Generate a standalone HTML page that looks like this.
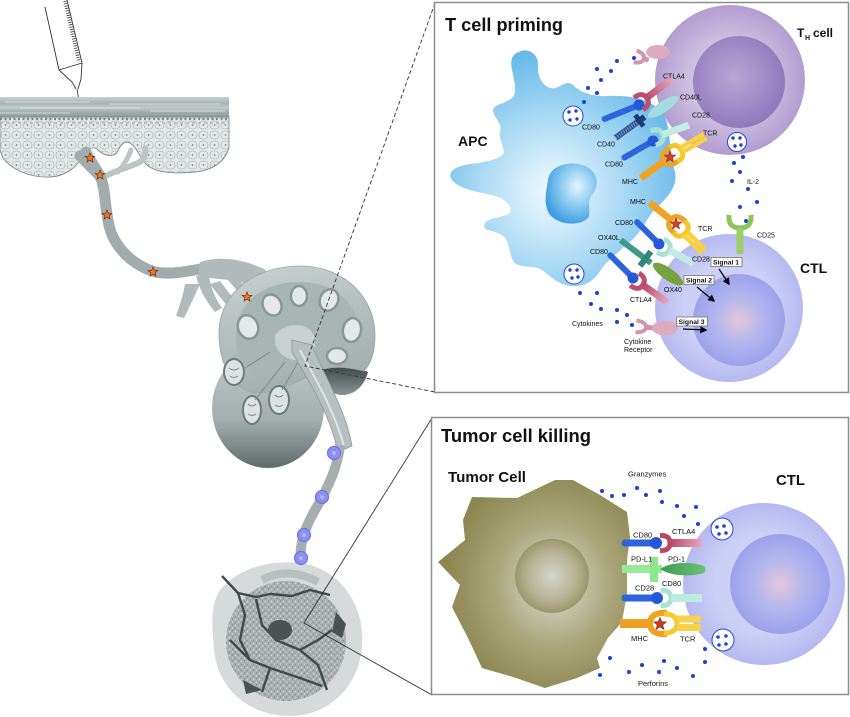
<!DOCTYPE html>
<html><head><meta charset="utf-8">
<style>
html,body{margin:0;padding:0;background:#fff;width:850px;height:717px;overflow:hidden}
svg{display:block}
text{font-family:"Liberation Sans",Arial,sans-serif;fill:#111}
.s{font-size:7px}
.m{font-size:7.5px}
.b{font-weight:bold}
</style></head><body>
<svg width="850" height="717" viewBox="0 0 850 717" xmlns="http://www.w3.org/2000/svg">
<defs>
<radialGradient id="apcG" cx="0.45" cy="0.6" r="0.62">
<stop offset="0" stop-color="#f2fafe"/><stop offset="0.45" stop-color="#b3def6"/><stop offset="1" stop-color="#62b6e8"/>
</radialGradient>
<radialGradient id="nucG" cx="0.62" cy="0.38" r="0.65">
<stop offset="0" stop-color="#e6f5fd"/><stop offset="0.5" stop-color="#8ccbf1"/><stop offset="1" stop-color="#3f9ee0"/>
</radialGradient>
<radialGradient id="thO" cx="0.5" cy="0.5" r="0.5">
<stop offset="0.55" stop-color="#cdbfe0"/><stop offset="1" stop-color="#b29dd0"/>
</radialGradient>
<radialGradient id="thI" cx="0.45" cy="0.45" r="0.6">
<stop offset="0" stop-color="#b9a7d6"/><stop offset="1" stop-color="#8e76ba"/>
</radialGradient>
<radialGradient id="ctO" cx="0.5" cy="0.5" r="0.5">
<stop offset="0.6" stop-color="#cdd0f6"/><stop offset="1" stop-color="#b5b9f0"/>
</radialGradient>
<radialGradient id="ctI" cx="0.5" cy="0.5" r="0.5">
<stop offset="0" stop-color="#e2c8da"/><stop offset="0.5" stop-color="#b4b6ee"/><stop offset="1" stop-color="#9ba2ea"/>
</radialGradient>
<radialGradient id="tuG" cx="0.6" cy="0.5" r="0.55">
<stop offset="0" stop-color="#dcdcd4"/><stop offset="0.55" stop-color="#aaa67a"/><stop offset="1" stop-color="#8c8752"/>
</radialGradient>
<radialGradient id="tuN" cx="0.5" cy="0.5" r="0.5">
<stop offset="0" stop-color="#d6d6cc"/><stop offset="0.7" stop-color="#b3b08e"/><stop offset="1" stop-color="#9a966a"/>
</radialGradient>
<linearGradient id="lnTop" x1="0" y1="0" x2="0.3" y2="1">
<stop offset="0" stop-color="#c9d1d1"/><stop offset="1" stop-color="#a5afaf"/>
</linearGradient>
<linearGradient id="lnLow" x1="0" y1="0" x2="0" y2="1">
<stop offset="0" stop-color="#c2caca"/><stop offset="0.6" stop-color="#a4aeae"/><stop offset="1" stop-color="#5f6b6b"/>
</linearGradient>
<linearGradient id="cres" x1="0" y1="0" x2="0" y2="1">
<stop offset="0" stop-color="#3f4949"/><stop offset="1" stop-color="#8a9595"/>
</linearGradient>
<linearGradient id="sc" x1="0" y1="0" x2="0" y2="1">
<stop offset="0" stop-color="#c9d0d0"/><stop offset="0.3" stop-color="#a9b3b3"/><stop offset="0.5" stop-color="#c3cbcb"/><stop offset="0.75" stop-color="#a0aaaa"/><stop offset="1" stop-color="#8d9898"/>
</linearGradient>
<linearGradient id="ctlaG" x1="0" y1="0" x2="1" y2="0">
<stop offset="0" stop-color="#b84868"/><stop offset="1" stop-color="#e6a9bb"/>
</linearGradient>
<linearGradient id="pd1G" x1="0" y1="0" x2="1" y2="0">
<stop offset="0" stop-color="#3f9a50"/><stop offset="1" stop-color="#6cc07a"/>
</linearGradient>
<pattern id="cellP" width="11" height="10" patternUnits="userSpaceOnUse">
<rect width="11" height="10" fill="#e3e7e7"/>
<path d="M1,5 Q1,1 5.5,1 Q10,1 10,5 Q10,9 5.5,9 Q1,9 1,5 Z" fill="none" stroke="#a7b0b0" stroke-width="0.6"/>
<circle cx="5.5" cy="5" r="0.9" fill="#7f8a8a"/>
</pattern>
<pattern id="texP" width="6" height="6" patternUnits="userSpaceOnUse">
<rect width="6" height="6" fill="#a9aeae"/>
<circle cx="1.5" cy="1.5" r="0.9" fill="#d2d6d6"/><circle cx="4.5" cy="4" r="0.8" fill="#d2d6d6"/>
<circle cx="4.5" cy="1" r="0.6" fill="#7c8484"/><circle cx="1.2" cy="4.6" r="0.6" fill="#7c8484"/>
</pattern>
<path id="star" d="M0,-5L1.29,-1.78L4.76,-1.55L2.09,0.68L2.94,4.05L0,2.2L-2.94,4.05L-2.09,0.68L-4.76,-1.55L-1.29,-1.78Z"/>
<marker id="ah" viewBox="0 0 10 10" refX="8" refY="5" markerWidth="6" markerHeight="6" orient="auto"><path d="M0,0L10,5L0,10Z" fill="#000"/></marker>
</defs>

<rect width="850" height="717" fill="#fff"/>

<!-- ===== LEFT ILLUSTRATION ===== -->
<g stroke="#333" fill="none" stroke-width="0.9">
<line x1="45" y1="7" x2="59" y2="70"/>
<line x1="67" y1="0" x2="82" y2="63"/>
<line x1="65" y1="1" x2="79" y2="62" stroke-width="3.5" stroke-dasharray="0.8 1.6"/>
<line x1="59" y1="70" x2="82" y2="63"/>
<path d="M59,70 L72,82 L76,89 M82,63 L81,79 L78,89"/>
<line x1="77" y1="89" x2="88" y2="156" stroke-width="0.8"/>
</g>

<rect x="0" y="97" width="229" height="21" fill="url(#sc)"/>
<g stroke="#e2e7e7" stroke-width="0.7">
<line x1="5" y1="102" x2="90" y2="102"/><line x1="110" y1="104" x2="220" y2="104"/>
<line x1="20" y1="108" x2="140" y2="108"/><line x1="150" y1="111" x2="225" y2="111"/>
<line x1="0" y1="113" x2="70" y2="113"/>
</g>
<path d="M0,117 L229,117 L229,147 C226,160 215,170 195,172 C175,174 158,173 148,166 C140,160 138,148 130,143 C124,140 120,146 118,151 C114,158 104,156 98,150 C94,146 90,148 86,152 C80,162 70,176 50,177 C28,178 10,168 3,158 L0,150 Z" fill="url(#cellP)" stroke="#7f8a8a" stroke-width="0.9"/>
<line x1="0" y1="119" x2="229" y2="119" stroke="#7d8888" stroke-width="2.2" stroke-dasharray="2 2.5"/>
<line x1="0" y1="123" x2="229" y2="123" stroke="#9aa4a4" stroke-width="1" stroke-dasharray="3 3"/>

<g fill="none" stroke-linecap="round">
<path d="M102,178 C115,170 128,168 140,162 C145,158 146,152 145,148" stroke="#bcc4c4" stroke-width="6"/>
<path d="M118,172 C126,162 129,156 131,150" stroke="#bcc4c4" stroke-width="5"/>
<path d="M80,156 L100,176" stroke="#a3acac" stroke-width="11"/>
<path d="M86,152 C92,165 100,172 103,185 C106,200 106,220 112,235 C120,252 135,266 155,272 C175,276 200,268 220,266 C235,265 250,270 262,280" stroke="#a3acac" stroke-width="11"/>
</g>
<g fill="#b2bbbb">
<path d="M200,262 C218,256 242,258 266,270 L258,288 C240,280 220,279 198,277 Z"/>
<path d="M196,276 C200,290 205,300 215,312 L222,308 C215,298 211,288 209,276 Z"/>
<path d="M185,284 C183,295 180,305 176,316 L184,318 C190,306 195,295 200,284 Z"/>
<path d="M210,284 C222,300 232,312 240,320 L247,313 C238,304 228,292 220,281 Z"/>
<path d="M228,280 C236,290 244,298 252,302 L256,292 C248,288 240,282 232,276 Z"/>
</g>

<ellipse cx="268" cy="408" rx="56" ry="60" fill="url(#lnLow)"/>
<path d="M316,372 C330,365 352,365 368,372 C364,388 352,396 340,395 C328,393 320,385 316,372 Z" fill="url(#cres)"/>
<path d="M219,330 C221,290 258,266 300,266 C345,266 375,298 375,335 C375,352 371,364 364,371 C347,367 330,365 316,372 C300,381 278,392 258,393 C238,393 218,370 219,330 Z" fill="url(#lnTop)" stroke="#9aa5a5" stroke-width="0.8"/>
<path d="M236,330 C240,300 265,282 300,282 C335,282 360,305 360,335 C358,352 345,362 320,366 C295,372 270,378 255,372 C240,364 234,350 236,330 Z" fill="#a9b4b4"/>
<g fill="#e3e8e8" stroke="#8b9797" stroke-width="2.5">
<ellipse cx="272" cy="305" rx="9" ry="11" transform="rotate(-30 272 305)"/>
<ellipse cx="299" cy="296" rx="8" ry="10"/>
<ellipse cx="329" cy="300" rx="9" ry="11" transform="rotate(25 329 300)"/>
<ellipse cx="352" cy="330" rx="9" ry="12" transform="rotate(10 352 330)"/>
<ellipse cx="337" cy="356" rx="10" ry="8"/>
<ellipse cx="248" cy="327" rx="10" ry="12" transform="rotate(-20 248 327)"/>
</g>
<path d="M275,335 C285,322 305,322 312,332 C320,345 312,358 300,360 C288,362 272,352 275,335 Z" fill="#c8d0d0"/>
<g fill="#dde2e2" stroke="#6f7b7b" stroke-width="2">
<ellipse cx="234" cy="372" rx="10" ry="13"/>
<ellipse cx="252" cy="410" rx="9" ry="14"/>
<ellipse cx="279" cy="400" rx="10" ry="14"/>
</g>
<g fill="none" stroke="#7f8b8b" stroke-width="1">
<path d="M229,368 q5,4 10,0 M230,376 q4,3 8,0 M248,404 q4,4 8,0 M248,414 q4,3 8,0 M275,395 q4,4 8,0 M275,405 q4,3 8,0"/>
<path d="M270,352 L245,368 M285,362 L255,400 M298,362 L282,390"/>
</g>
<path d="M292,340 L312,345 C326,380 346,410 352,446 L338,452 C330,415 312,386 292,352 Z" fill="#b6c0c0" stroke="#8e9898" stroke-width="0.8"/>
<path d="M300,350 C316,380 334,410 344,446" fill="none" stroke="#dfe4e4" stroke-width="2"/>
<path d="M340,445 C338,465 330,482 322,498 C312,515 303,530 301,548 L299,578" fill="none" stroke="#a6aeae" stroke-width="10"/>

<path d="M220,590 C240,565 280,558 310,565 C345,575 365,610 362,645 C360,685 330,716 290,716 C250,716 218,690 214,650 C212,625 210,605 220,590 Z" fill="#d6dada"/>
<path d="M262,580 C280,570 300,572 318,582" fill="none" stroke="#b9bfbf" stroke-width="8"/>
<circle cx="286" cy="641" r="60" fill="url(#texP)"/>
<g fill="none" stroke="#414949" stroke-width="2.4" stroke-linejoin="round">
<path d="M222,576 L238,593 L256,597 L270,594 L292,596 L310,590 L330,595"/>
<path d="M238,593 L245,615 L240,640 L250,660 L270,668 L300,678 L322,686"/>
<path d="M256,599 L262,625 L276,640 L300,650 L318,665 L327,690"/>
<path d="M300,650 L318,640 L332,630"/>
<path d="M230,640 L250,660"/>
<path d="M262,692 L270,668"/>
</g>
<ellipse cx="280" cy="630" rx="12" ry="10" fill="#4a5252"/>
<path d="M336,612 L346,624 L342,638 L332,632 Z" fill="#4a5252"/>
<path d="M243,680 L262,690 L246,694 Z" fill="#4a5252"/>

<g fill="#8d8ff2" stroke="#6f72e6" stroke-width="1.2">
<circle cx="334" cy="453" r="6.5"/><circle cx="322" cy="497" r="6.5"/><circle cx="304" cy="535" r="6.5"/><circle cx="301" cy="558" r="6.5"/>
</g>
<g fill="#b4b6f8"><circle cx="334" cy="453" r="2"/><circle cx="322" cy="497" r="2"/><circle cx="304" cy="535" r="2"/><circle cx="301" cy="558" r="2"/></g>

<g fill="#f07a1a" stroke="#7a2a10" stroke-width="0.7">
<use href="#star" transform="translate(90,158)"/>
<use href="#star" transform="translate(100,175)"/>
<use href="#star" transform="translate(107,215)"/>
<use href="#star" transform="translate(153,272)"/>
<use href="#star" transform="translate(247,297)"/>
</g>

<g stroke="#333" stroke-width="0.9" fill="none">
<path d="M435,3 L305,366 L435,392" stroke-dasharray="4 2.5"/>
<path d="M432,418 L304,623 L432,695"/>
</g>

<!-- ===== TOP PANEL ===== -->
<rect x="434.5" y="2.5" width="414" height="390" fill="#fff" stroke="#8d8d8d" stroke-width="1.5"/>
<text x="445" y="31" class="b" font-size="18" textLength="118" lengthAdjust="spacingAndGlyphs">T cell priming</text>

<circle cx="730" cy="80" r="75" fill="url(#thO)"/>
<circle cx="739" cy="82" r="46" fill="url(#thI)"/>
<text x="797" y="37" class="b" font-size="12">T</text>
<text x="805" y="40" class="b" font-size="7">H</text>
<text x="813" y="37" class="b" font-size="12">cell</text>

<circle cx="729" cy="308" r="74" fill="url(#ctO)"/>
<circle cx="739" cy="320" r="46" fill="url(#ctI)"/>
<text x="800" y="273" class="b" font-size="14">CTL</text>

<path d="M519,52 C528,47 539,54 538,66 C537,78 545,90 555,88 C563,86 566,80 573,85 C580,92 592,97 608,96 C628,95 650,98 662,112 C672,126 668,150 675,172 C678,185 668,198 656,208 C648,216 644,228 634,238 C624,248 612,256 602,268 C595,280 586,287 572,286 C558,285 550,276 542,270 C534,265 524,268 516,264 C508,258 512,244 503,236 C496,230 485,232 484,226 C484,218 500,218 508,214 C515,210 508,200 495,196 C480,192 460,190 452,180 C446,172 456,166 470,164 C485,162 498,160 503,154 C506,148 498,140 500,132 C503,124 494,118 493,111 C493,104 505,104 512,98 C518,92 514,80 512,70 C510,60 512,54 519,52 Z" fill="url(#apcG)"/>
<path d="M548,180 C550,165 570,160 585,166 C598,172 600,185 592,195 C586,202 592,212 588,218 C580,226 560,226 550,215 C543,205 546,192 548,180 Z" fill="url(#nucG)"/>
<text x="458" y="146" class="b" font-size="14">APC</text>

<g fill="#fff" stroke="#2a45d0" stroke-width="1">
<circle cx="573" cy="116" r="10"/><circle cx="574" cy="274" r="10"/><circle cx="737" cy="142" r="9.5"/>
</g>
<g fill="#1f3fd8">
<circle cx="569" cy="112" r="1.7"/><circle cx="576" cy="111" r="1.7"/><circle cx="570" cy="120" r="1.7"/><circle cx="577" cy="119" r="1.7"/>
<circle cx="570" cy="270" r="1.7"/><circle cx="577" cy="270" r="1.7"/><circle cx="572" cy="278" r="1.7"/><circle cx="578" cy="277" r="1.7"/>
<circle cx="733" cy="138" r="1.7"/><circle cx="740" cy="138" r="1.7"/><circle cx="735" cy="146" r="1.7"/><circle cx="741" cy="145" r="1.7"/>
</g>

<g fill="#1f3fd8">
<circle cx="634" cy="58" r="2"/><circle cx="617" cy="61" r="2"/><circle cx="597" cy="69" r="2"/><circle cx="611" cy="71" r="2"/>
<circle cx="601" cy="80" r="2"/><circle cx="588" cy="88" r="2"/><circle cx="597" cy="93" r="2"/><circle cx="584" cy="102" r="2"/>
<circle cx="743" cy="157" r="2"/><circle cx="734" cy="163" r="2"/><circle cx="740" cy="172" r="2"/><circle cx="732" cy="181" r="2"/>
<circle cx="748" cy="189" r="2"/><circle cx="740" cy="207" r="2"/><circle cx="757" cy="202" r="2"/><circle cx="746" cy="221" r="2"/>
<circle cx="580" cy="293" r="2"/><circle cx="597" cy="293" r="2"/><circle cx="591" cy="304" r="2"/><circle cx="601" cy="309" r="2"/>
<circle cx="617" cy="310" r="2"/><circle cx="627" cy="315" r="2"/><circle cx="617" cy="322" r="2"/><circle cx="632" cy="325" r="2"/>
</g>

<g transform="translate(641,58) rotate(15)"><path d="M-6,-6 Q3,-5 3,0 Q3,5 -6,6" stroke="#d394ad" stroke-width="4" fill="none"/><line x1="2" y1="0" x2="8" y2="0" stroke="#d394ad" stroke-width="5"/></g>
<ellipse cx="658" cy="52" rx="12" ry="7" fill="#dcabbf"/>

<g transform="translate(639,105) rotate(-22)"><line x1="-37" y1="0" x2="-4" y2="0" stroke="#2d64dc" stroke-width="6" stroke-linecap="round"/><circle r="5.5" fill="#2458d6"/></g>
<g transform="translate(641,102) rotate(-37)"><path d="M-3,-7.5 Q7,-8 7,0 Q7,8 -3,7.5" fill="none" stroke="#c24c6e" stroke-width="5"/><rect x="7" y="-3.5" width="32" height="7" fill="url(#ctlaG)"/></g>
<g transform="translate(643,118) rotate(-36)"><line x1="-34" y1="0" x2="-6" y2="0" stroke="#2d4f8e" stroke-width="6"/><line x1="-34" y1="0" x2="-8" y2="0" stroke="#7d9bd0" stroke-width="4" stroke-dasharray="1 1.5"/><path d="M-7,-7 H-2 V-3 H2 V3 H-2 V7 H-7 Z" fill="#1e3c78"/></g>
<ellipse cx="663" cy="107" rx="18" ry="5.5" transform="rotate(-34 663 107)" fill="#a3dcdc"/>
<g transform="translate(653,141) rotate(-30)"><line x1="-33" y1="0" x2="-4" y2="0" stroke="#2d64dc" stroke-width="6" stroke-linecap="round"/><circle r="5.5" fill="#2458d6"/></g>
<g transform="translate(656,137) rotate(-20)"><path d="M-3,-7.5 Q7,-8 7,0 Q7,8 -3,7.5" fill="none" stroke="#a9e0d6" stroke-width="5"/><rect x="7" y="-3.5" width="28" height="7" fill="#c2ebe4"/></g>
<g transform="translate(670,157) rotate(-36)"><line x1="-36" y1="0" x2="-8" y2="0" stroke="#f0a222" stroke-width="7"/><path d="M6,-8 Q-7,-9 -7,0 Q-7,9 6,8" fill="none" stroke="#f0a222" stroke-width="5"/></g>
<g transform="translate(676,153) rotate(-30)"><path d="M-3,-8 Q6,-9 6,0 Q6,9 -3,8" fill="none" stroke="#f5c52a" stroke-width="5"/><line x1="6" y1="-2.5" x2="34" y2="-2.5" stroke="#f8d040" stroke-width="4.5"/><line x1="6" y1="2.5" x2="34" y2="2.5" stroke="#f8d040" stroke-width="4.5"/></g>
<use href="#star" transform="translate(670,157) scale(1.2)" fill="#d8401a" stroke="#a02a10" stroke-width="0.5"/>

<g transform="translate(676,224) rotate(39)"><line x1="-34" y1="0" x2="-8" y2="0" stroke="#f0a222" stroke-width="7"/><path d="M6,-8 Q-7,-9 -7,0 Q-7,9 6,8" fill="none" stroke="#f0a222" stroke-width="5"/></g>
<g transform="translate(681,229) rotate(45)"><path d="M-3,-8 Q6,-9 6,0 Q6,9 -3,8" fill="none" stroke="#f5c52a" stroke-width="5"/><line x1="6" y1="-2.5" x2="32" y2="-2.5" stroke="#f8d040" stroke-width="4.5"/><line x1="6" y1="2.5" x2="32" y2="2.5" stroke="#f8d040" stroke-width="4.5"/></g>
<use href="#star" transform="translate(676,224) scale(1.2)" fill="#d8401a" stroke="#a02a10" stroke-width="0.5"/>
<g transform="translate(659,244) rotate(45)"><line x1="-31" y1="0" x2="-4" y2="0" stroke="#2d64dc" stroke-width="6" stroke-linecap="round"/><circle r="5.5" fill="#2458d6"/></g>
<g transform="translate(663,247) rotate(28)"><path d="M-3,-7.5 Q7,-8 7,0 Q7,8 -3,7.5" fill="none" stroke="#a9e0d6" stroke-width="5"/><rect x="7" y="-3.5" width="28" height="7" fill="#c2ebe4"/></g>
<g transform="translate(651,263) rotate(37)"><line x1="-38" y1="0" x2="0" y2="0" stroke="#3c9a8a" stroke-width="6"/><rect x="-10" y="-9" width="6" height="18" fill="#2f8878"/></g>
<ellipse cx="668" cy="274" rx="18" ry="6" transform="rotate(35 668 274)" fill="#76a340"/>
<g transform="translate(633,278) rotate(45)"><line x1="-32" y1="0" x2="-4" y2="0" stroke="#2d64dc" stroke-width="6" stroke-linecap="round"/><circle r="5.5" fill="#2458d6"/></g>
<g transform="translate(637,281) rotate(35)"><path d="M-3,-7.5 Q7,-8 7,0 Q7,8 -3,7.5" fill="none" stroke="#c24c6e" stroke-width="5"/><rect x="7" y="-3.5" width="30" height="7" fill="url(#ctlaG)"/></g>
<g transform="translate(740,219) rotate(90)"><path d="M-4,-11 Q9,-12 9,0 Q9,12 -4,11" fill="none" stroke="#8cc458" stroke-width="5"/><rect x="9" y="-3.5" width="26" height="7" fill="#9ccf68"/></g>
<g transform="translate(643,327) rotate(5)"><path d="M-7,-6 Q3,-5 3,0 Q3,5 -7,6" stroke="#d394ad" stroke-width="4" fill="none"/><line x1="2" y1="0" x2="10" y2="0" stroke="#d394ad" stroke-width="5"/></g>
<ellipse cx="665" cy="328" rx="13" ry="7.5" fill="#dcabbf"/>

<g class="s">
<text x="663" y="78.5">CTLA4</text>
<text x="680" y="99.5">CD40L</text>
<text x="692" y="117.5">CD28</text>
<text x="703" y="135.5">TCR</text>
<text x="582" y="129.5">CD80</text>
<text x="597" y="146.5">CD40</text>
<text x="605" y="166.5">CD80</text>
<text x="622" y="184">MHC</text>
<text x="747" y="184">IL-2</text>
<text x="630" y="204">MHC</text>
<text x="698" y="231">TCR</text>
<text x="615" y="225">CD80</text>
<text x="598" y="240">OX40L</text>
<text x="590" y="254">CD80</text>
<text x="692" y="261.5">CD28</text>
<text x="757" y="237.5">CD25</text>
<text x="664" y="292">OX40</text>
<text x="630" y="302">CTLA4</text>
<text x="572" y="326">Cytokines</text>
<text x="624" y="344">Cytokine</text>
<text x="624" y="352">Receptor</text>
</g>

<g fill="#fff" stroke="#777" stroke-width="0.8">
<rect x="711" y="257.5" width="31" height="9"/>
<rect x="684" y="275.5" width="30" height="9"/>
<rect x="676.5" y="317" width="31" height="9"/>
</g>
<g class="b" font-size="6.8">
<text x="713" y="264.5">Signal 1</text>
<text x="686" y="282.5">Signal 2</text>
<text x="678.5" y="324">Signal 3</text>
</g>
<g stroke="#000" stroke-width="1.2" fill="none">
<line x1="719" y1="269" x2="729" y2="284" marker-end="url(#ah)"/>
<line x1="697" y1="287" x2="714" y2="301" marker-end="url(#ah)"/>
<line x1="683" y1="329" x2="706" y2="330" marker-end="url(#ah)"/>
</g>

<!-- ===== BOTTOM PANEL ===== -->
<rect x="431.5" y="417.5" width="417" height="277" fill="#fff" stroke="#8d8d8d" stroke-width="1.5"/>
<text x="441" y="442" class="b" font-size="18" textLength="150" lengthAdjust="spacingAndGlyphs">Tumor cell killing</text>
<text x="448" y="482" class="b" font-size="15" textLength="78" lengthAdjust="spacingAndGlyphs">Tumor Cell</text>
<text x="776" y="485" class="b" font-size="15" textLength="29" lengthAdjust="spacingAndGlyphs">CTL</text>

<path d="M472,497 L517,498 L555,480 L573,480 L600,495 L627,512 L630,537 L627,560 L627,593 L622,622 L608,638 L597,658 L600,668 L577,678 L545,688 L513,677 L482,668 L468,638 L452,607 L460,585 L438,562 L465,540 L463,520 Z" fill="url(#tuG)"/>
<circle cx="552" cy="576" r="37" fill="url(#tuN)"/>

<circle cx="764" cy="584" r="81" fill="url(#ctO)"/>
<circle cx="780" cy="584" r="50" fill="url(#ctI)"/>

<g fill="#fff" stroke="#2a45d0" stroke-width="1">
<circle cx="722" cy="529" r="11"/><circle cx="723" cy="640" r="11"/>
</g>
<g fill="#1f3fd8">
<circle cx="717" cy="527" r="1.8"/><circle cx="724" cy="526" r="1.8"/><circle cx="719" cy="534" r="1.8"/><circle cx="726" cy="533" r="1.8"/>
<circle cx="718" cy="637" r="1.8"/><circle cx="726" cy="636" r="1.8"/><circle cx="719" cy="645" r="1.8"/><circle cx="726" cy="644" r="1.8"/>
</g>

<g fill="#1f3fd8">
<circle cx="602" cy="491" r="2"/><circle cx="612" cy="496" r="2"/><circle cx="624" cy="495" r="2"/><circle cx="637" cy="488" r="2"/>
<circle cx="646" cy="495" r="2"/><circle cx="660" cy="491" r="2"/><circle cx="662" cy="502" r="2"/><circle cx="677" cy="506" r="2"/>
<circle cx="696" cy="507" r="2"/><circle cx="684" cy="516" r="2"/><circle cx="698" cy="524" r="2"/>
<circle cx="610" cy="658" r="2"/><circle cx="600" cy="675" r="2"/><circle cx="629" cy="672" r="2"/><circle cx="642" cy="665" r="2"/>
<circle cx="659" cy="672" r="2"/><circle cx="664" cy="661" r="2"/><circle cx="677" cy="668" r="2"/><circle cx="693" cy="676" r="2"/>
<circle cx="705" cy="662" r="2"/><circle cx="705" cy="649" r="2"/>
</g>

<line x1="625" y1="543" x2="652" y2="543" stroke="#2d64dc" stroke-width="7" stroke-linecap="round"/>
<circle cx="656" cy="543" r="6" fill="#2458d6"/>
<path d="M660,535.5 Q670,535 670,543 Q670,551 660,550.5" fill="none" stroke="#b84868" stroke-width="5"/>
<rect x="670" y="539" width="32" height="8" fill="url(#ctlaG)"/>

<rect x="622" y="565" width="40" height="8" fill="#97ea97"/>
<rect x="650" y="557" width="8" height="25" fill="#8ee68e"/>
<path d="M660,569 C670,562 690,561 704,566 C706,568 706,571 704,573 C690,577 670,576 660,569 Z" fill="url(#pd1G)"/>

<line x1="625" y1="598" x2="653" y2="598" stroke="#2d64dc" stroke-width="7" stroke-linecap="round"/>
<circle cx="657" cy="598" r="6" fill="#2458d6"/>
<path d="M661,590.5 Q671,590 671,598 Q671,606 661,605.5" fill="none" stroke="#a8e2d2" stroke-width="5"/>
<rect x="671" y="594" width="31" height="8" fill="#bdebdf"/>

<rect x="620" y="619" width="31" height="9" fill="#f0a020"/>
<path d="M667,613 Q650,612 650,623.5 Q650,635 667,634" fill="none" stroke="#f0a020" stroke-width="6"/>
<path d="M664,614 Q677,614 677,623.5 Q677,633 664,633" fill="none" stroke="#f8c830" stroke-width="5"/>
<rect x="677" y="615.5" width="24" height="7" fill="#f8d24a"/>
<rect x="677" y="624" width="24" height="7" fill="#f8d24a"/>
<use href="#star" transform="translate(660,624) scale(1.3)" fill="#c83a18" stroke="#8a2410" stroke-width="0.5"/>

<g class="m">
<text x="628" y="476.5">Granzymes</text>
<text x="638" y="686">Perforins</text>
<text x="633" y="537.5">CD80</text>
<text x="672" y="534">CTLA4</text>
<text x="631" y="561.5">PD-L1</text>
<text x="668" y="561.5">PD-1</text>
<text x="635" y="590.5">CD28</text>
<text x="662" y="586">CD80</text>
<text x="631" y="641">MHC</text>
<text x="680" y="641.5">TCR</text>
</g>
</svg>
</body></html>
